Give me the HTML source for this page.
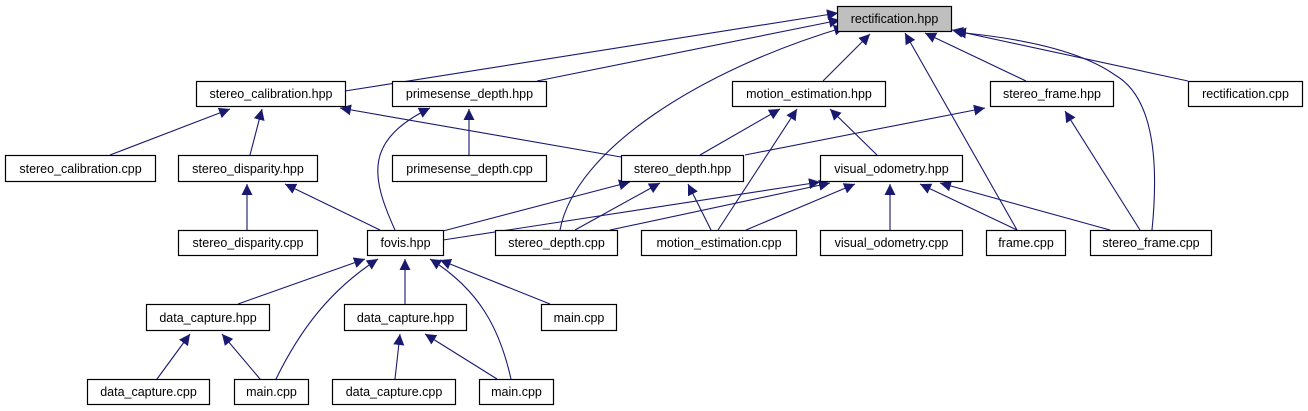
<!DOCTYPE html>
<html><head><meta charset="utf-8"><style>
html,body{margin:0;padding:0;background:#fff;}
svg{display:block;}
text{font-family:"Liberation Sans",Arial,sans-serif;font-size:12.5px;fill:#000;}
</style></head><body>
<svg width="1308" height="411" viewBox="0 0 1308 411" xmlns="http://www.w3.org/2000/svg">
<defs>
<marker id="a" viewBox="0 0 10 10" refX="10" refY="5" markerWidth="11" markerHeight="11" markerUnits="userSpaceOnUse" orient="auto">
<path d="M0,0 L10,5 L0,10 z" fill="#191970"/>
</marker>
</defs>
<g fill="none" stroke="#191970" stroke-width="1.1" marker-end="url(#a)">
<path d="M345,91 L838,13"/>
<path d="M537,81 L840,20"/>
<path d="M560,230 C575,150 700,70 845,27"/>
<path d="M823,81 L870,34"/>
<path d="M1017,230 L905,33"/>
<path d="M1026,81 L925,33"/>
<path d="M1152,230 C1160,150 1150,95 1115,75 C1080,50 1020,38 955,32"/>
<path d="M1188,81 L952,30"/>
<path d="M110,155 L230,109"/>
<path d="M250,155 L262,109"/>
<path d="M621,157 L340,108"/>
<path d="M395,230 C370,175 365,140 430,108"/>
<path d="M469,155 L469,109"/>
<path d="M700,155 L780,109"/>
<path d="M718,230 L797,109"/>
<path d="M877,155 L830,109"/>
<path d="M745,155 L985,108"/>
<path d="M1140,230 L1065,111"/>
<path d="M247,230 L247,184"/>
<path d="M380,230 L285,184"/>
<path d="M443,231 L630,182"/>
<path d="M575,230 L660,183"/>
<path d="M711,230 L688,184"/>
<path d="M443,240 L820,182"/>
<path d="M610,230 L830,183"/>
<path d="M746,230 L855,184"/>
<path d="M890,230 L890,184"/>
<path d="M1017,230 L920,184"/>
<path d="M1110,230 L940,183"/>
<path d="M238,304 L365,259"/>
<path d="M276,379 C300,330 330,290 378,259"/>
<path d="M405,304 L405,259"/>
<path d="M511,379 C500,330 480,290 430,259"/>
<path d="M550,304 L440,260"/>
<path d="M157,379 L190,334"/>
<path d="M260,379 L222,334"/>
<path d="M395,379 L400,334"/>
<path d="M497,379 L425,334"/>
</g>
<g stroke="#000" stroke-width="1.2" fill="#fff">
<rect x="837.5" y="6.5" width="114" height="25" fill="#bfbfbf"/>
<rect x="196.5" y="81.5" width="149" height="25"/>
<rect x="392.5" y="81.5" width="154" height="25"/>
<rect x="732.5" y="81.5" width="153" height="25"/>
<rect x="990.5" y="81.5" width="123" height="25"/>
<rect x="1188.5" y="81.5" width="114" height="25"/>
<rect x="5.5" y="155.5" width="150" height="26"/>
<rect x="178.5" y="155.5" width="139" height="26"/>
<rect x="392.5" y="155.5" width="154" height="26"/>
<rect x="621.5" y="155.5" width="122" height="26"/>
<rect x="820.5" y="155.5" width="142" height="26"/>
<rect x="178.5" y="230.5" width="139" height="25"/>
<rect x="367.5" y="230.5" width="76" height="25"/>
<rect x="495.5" y="230.5" width="122" height="25"/>
<rect x="641.5" y="230.5" width="155" height="25"/>
<rect x="820.5" y="230.5" width="142" height="25"/>
<rect x="986.5" y="230.5" width="79" height="25"/>
<rect x="1090.5" y="230.5" width="121" height="25"/>
<rect x="146.5" y="304.5" width="123" height="26"/>
<rect x="344.5" y="304.5" width="122" height="26"/>
<rect x="541.5" y="304.5" width="75" height="26"/>
<rect x="87.5" y="379.5" width="122" height="25"/>
<rect x="234.5" y="379.5" width="74" height="25"/>
<rect x="332.5" y="379.5" width="123" height="25"/>
<rect x="479.5" y="379.5" width="74" height="25"/>
</g>
<g text-anchor="middle">
<text x="894.5" y="23">rectification.hpp</text>
<text x="271" y="98">stereo_calibration.hpp</text>
<text x="469.5" y="98">primesense_depth.hpp</text>
<text x="809" y="98">motion_estimation.hpp</text>
<text x="1052" y="98">stereo_frame.hpp</text>
<text x="1245.5" y="98">rectification.cpp</text>
<text x="80.5" y="173">stereo_calibration.cpp</text>
<text x="248" y="173">stereo_disparity.hpp</text>
<text x="469.5" y="173">primesense_depth.cpp</text>
<text x="682.5" y="173">stereo_depth.hpp</text>
<text x="891.5" y="173">visual_odometry.hpp</text>
<text x="248" y="247">stereo_disparity.cpp</text>
<text x="405.5" y="247">fovis.hpp</text>
<text x="556.5" y="247">stereo_depth.cpp</text>
<text x="719" y="247">motion_estimation.cpp</text>
<text x="891.5" y="247">visual_odometry.cpp</text>
<text x="1026" y="247">frame.cpp</text>
<text x="1151" y="247">stereo_frame.cpp</text>
<text x="208" y="322">data_capture.hpp</text>
<text x="405.5" y="322">data_capture.hpp</text>
<text x="579" y="322">main.cpp</text>
<text x="148.5" y="396">data_capture.cpp</text>
<text x="271.5" y="396">main.cpp</text>
<text x="394" y="396">data_capture.cpp</text>
<text x="516.5" y="396">main.cpp</text>
</g>
</svg>
</body></html>
